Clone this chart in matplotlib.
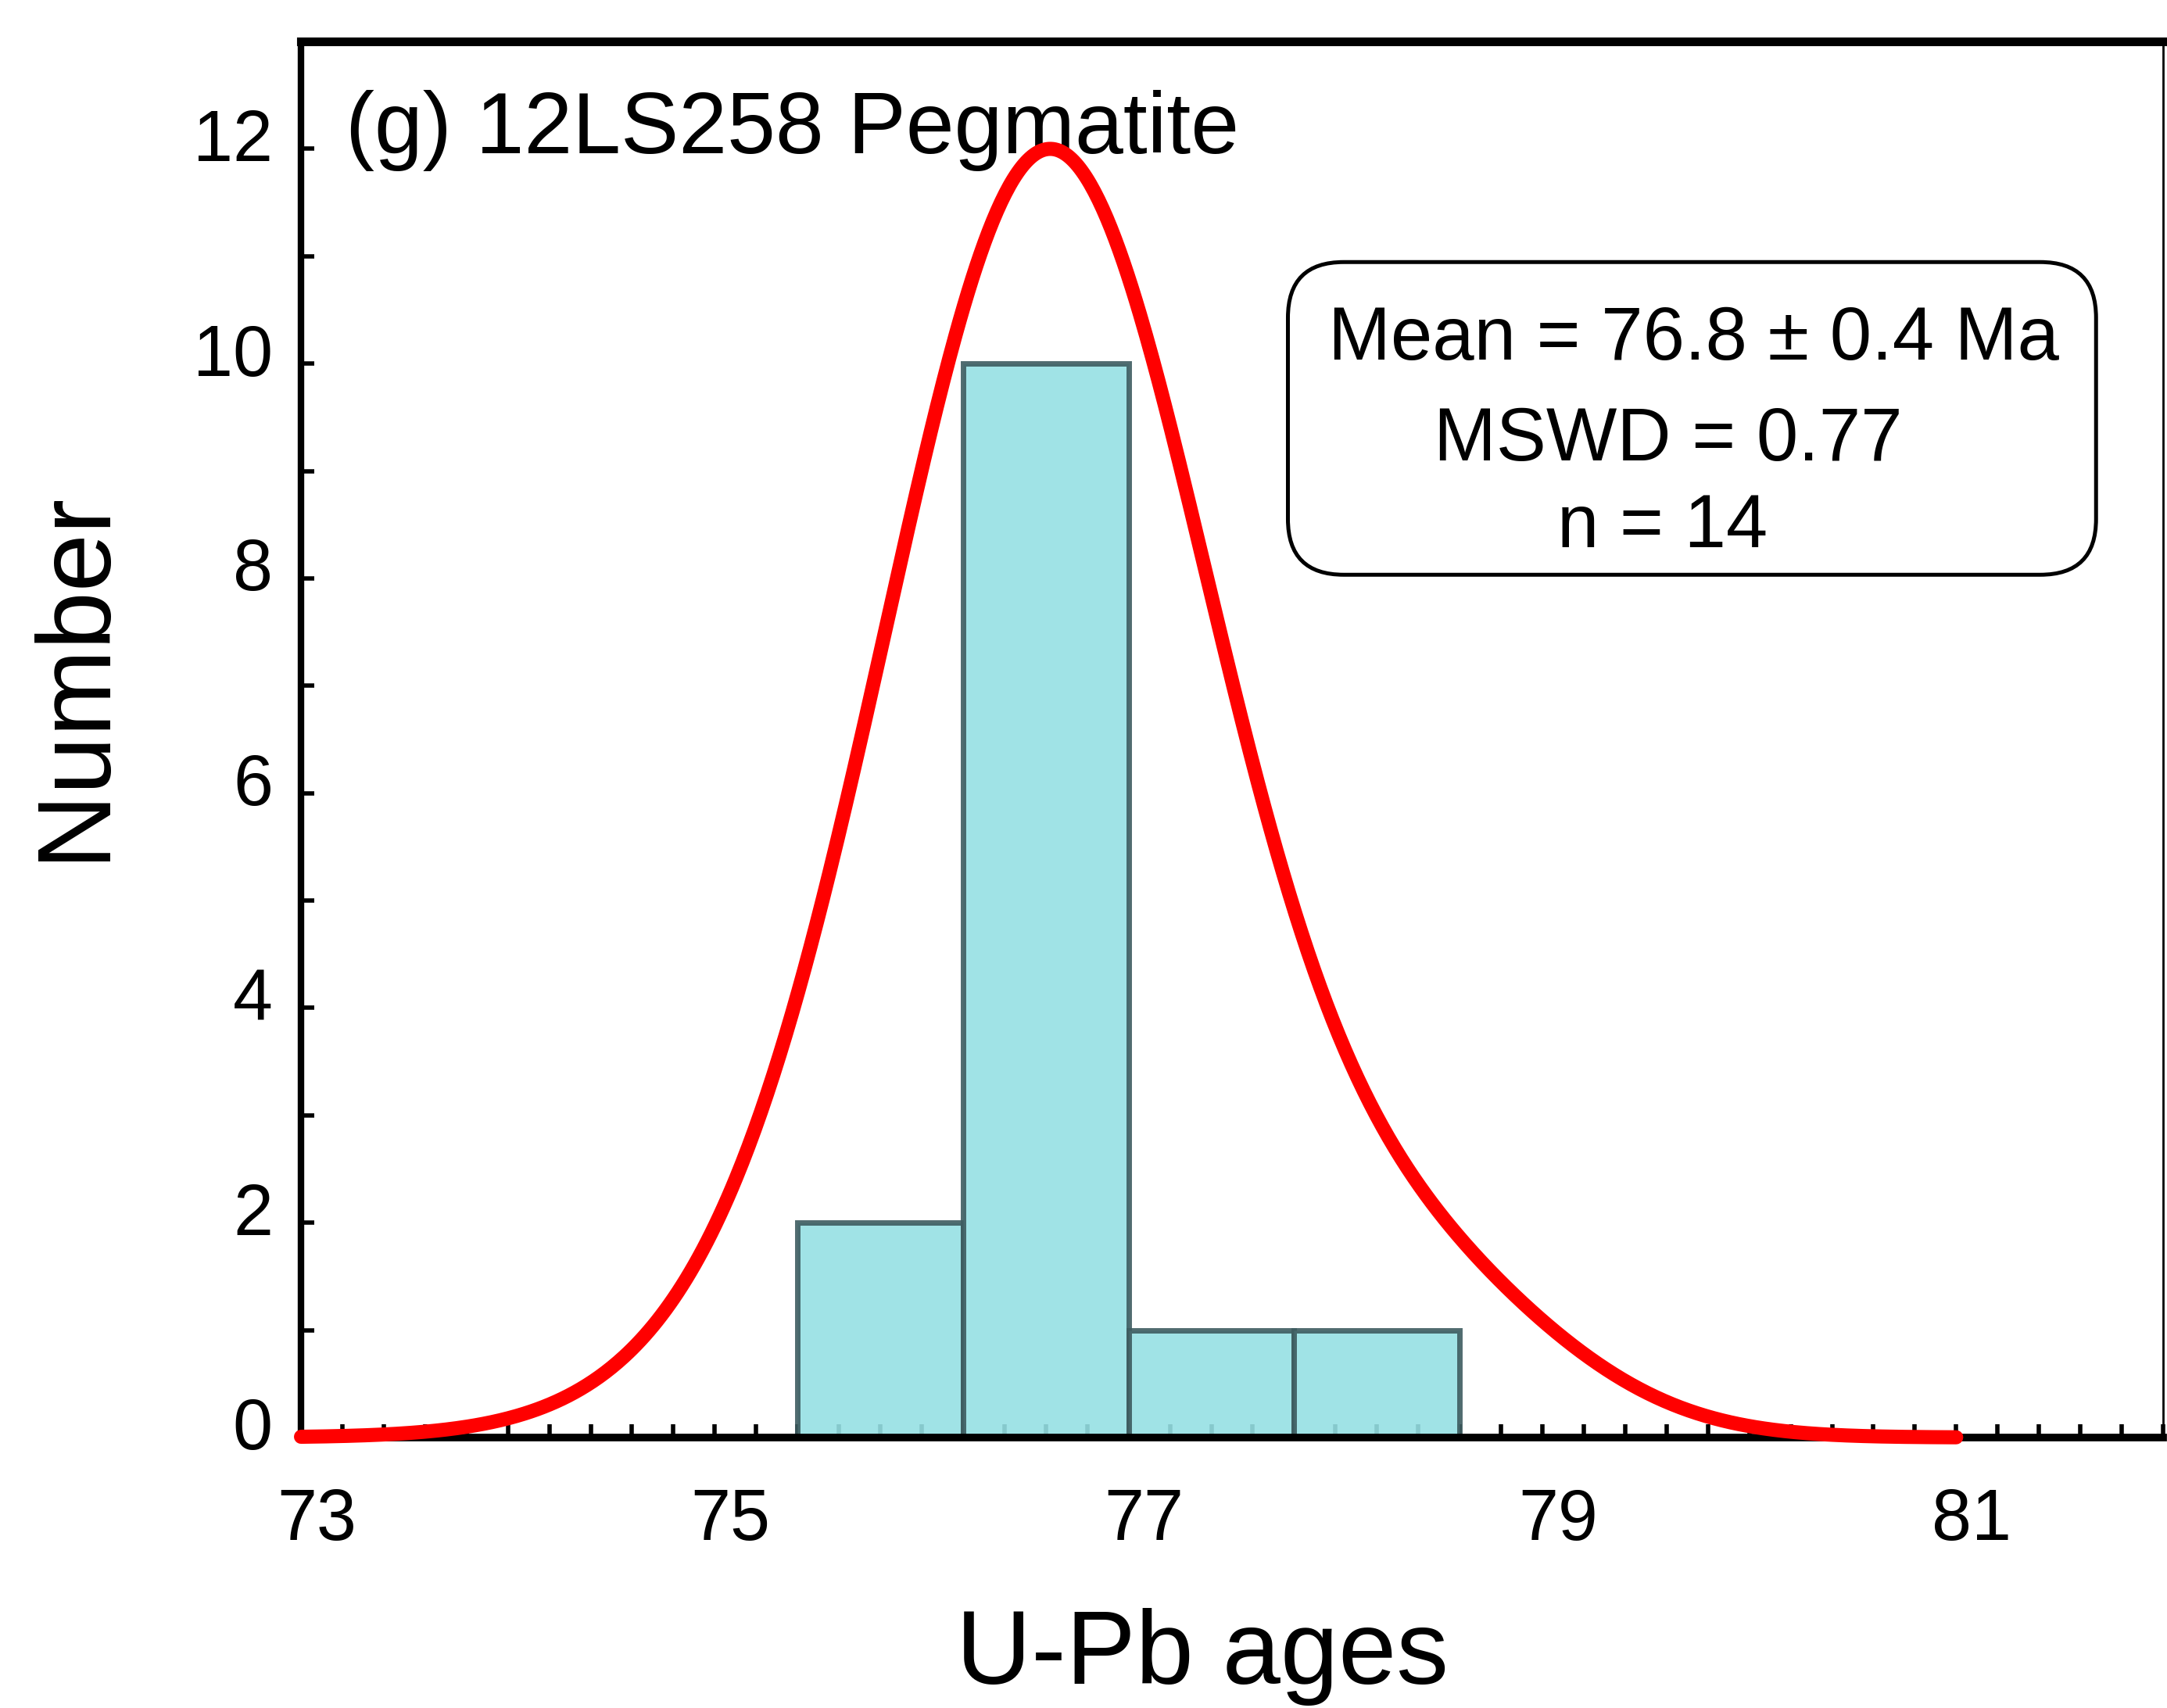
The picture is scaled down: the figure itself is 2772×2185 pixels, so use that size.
import numpy as np
import matplotlib.pyplot as plt
from matplotlib.patches import FancyBboxPatch
from matplotlib.ticker import FixedLocator, MultipleLocator
import matplotlib.transforms as mtransforms

plt.rcParams['font.family'] = ['Liberation Sans', 'DejaVu Sans']

# Individual zircon U-Pb ages (Ma) and 1-sigma errors
ages = [75.75, 76.05, 76.30, 76.40, 76.47, 76.55, 76.60, 76.67, 76.75,
        76.82, 76.90, 76.96, 77.60, 78.45]
errors = [0.85, 0.85, 0.72, 0.72, 0.72, 0.72, 0.72, 0.72, 0.72,
          0.72, 0.72, 0.72, 0.80, 0.70]

# Histogram bins and counts
bin_edges = [75.4, 76.2, 77.0, 77.8, 78.6]
counts = [2, 10, 1, 1]

curve_peak = 12
curve_range = (73, 81)

title = '(g) 12LS258 Pegmatite'
stats = ['Mean = 76.8 \u00b1 0.4 Ma', 'MSWD = 0.77', 'n = 14']

fig = plt.figure(figsize=(27.72, 21.85), dpi=100)
ax = fig.add_axes([0.1389, 0.1584, 0.9982 - 0.1389, 0.9757 - 0.1584])
ax.set_axisbelow(True)

# histogram bars
widths = np.diff(bin_edges)
ax.bar(bin_edges[:-1], counts, width=widths, align='edge',
       color='#96e0e4', edgecolor='#3e5c60', linewidth=5, alpha=0.9, zorder=1)

# probability density curve: sum of gaussians, scaled to the peak
x = np.linspace(curve_range[0], curve_range[1], 800)
dens = np.zeros_like(x)
for a, s in zip(ages, errors):
    dens += np.exp(-0.5 * ((x - a) / s) ** 2) / s
dens *= curve_peak / dens.max()
ax.plot(x, dens, color='#ff0000', lw=13, solid_capstyle='round',
        clip_on=False, zorder=3)

ax.set_xlim(73, 82)
ax.set_ylim(0, 13)
ax.xaxis.set_major_locator(FixedLocator([73, 75, 77, 79, 81]))
ax.xaxis.set_minor_locator(MultipleLocator(0.2))
ax.yaxis.set_major_locator(MultipleLocator(2))
ax.yaxis.set_minor_locator(MultipleLocator(1))
ax.tick_params(which='both', direction='in', length=12, width=4,
               top=False, right=False)
ax.tick_params(axis='x', labelsize=66, pad=46)
ax.tick_params(axis='y', labelsize=66, pad=26)

# nudge tick labels a little off their ticks
for lab in ax.get_xticklabels():
    lab.set_transform(lab.get_transform() +
                      mtransforms.ScaledTranslation(0.2, 0, fig.dpi_scale_trans))
for lab in ax.get_yticklabels():
    lab.set_transform(lab.get_transform() +
                      mtransforms.ScaledTranslation(0, 0.18, fig.dpi_scale_trans))

ax.spines['left'].set_linewidth(6)
ax.spines['bottom'].set_linewidth(7)
ax.spines['top'].set_linewidth(8)
ax.spines['right'].set_linewidth(2)

ax.set_xlabel('U-Pb ages', fontsize=96)
ax.xaxis.set_label_coords(0.484, -0.157)
ax.xaxis.label.set_va('center')
ax.set_ylabel('Number', fontsize=96)
ax.yaxis.set_label_coords(-0.121, 0.546)
ax.yaxis.label.set_va('center')

ax.text(0.024, 0.936, title, transform=ax.transAxes, fontsize=80,
        ha='left', va='center', zorder=2)

# stats box
box = FancyBboxPatch((0.530, 0.618), 0.964 - 0.530, 0.842 - 0.618,
                     boxstyle='round,pad=0,rounding_size=0.03',
                     mutation_aspect=1.33, transform=ax.transAxes,
                     facecolor='white', edgecolor='black', linewidth=3.6,
                     zorder=4)
ax.add_patch(box)
for (tx, ty), s in zip([(0.748, 0.786), (0.734, 0.714), (0.731, 0.652)], stats):
    ax.text(tx, ty, s, transform=ax.transAxes, fontsize=69,
            ha='center', va='center', zorder=5)

fig.savefig('out.png', dpi=100, facecolor='white')
